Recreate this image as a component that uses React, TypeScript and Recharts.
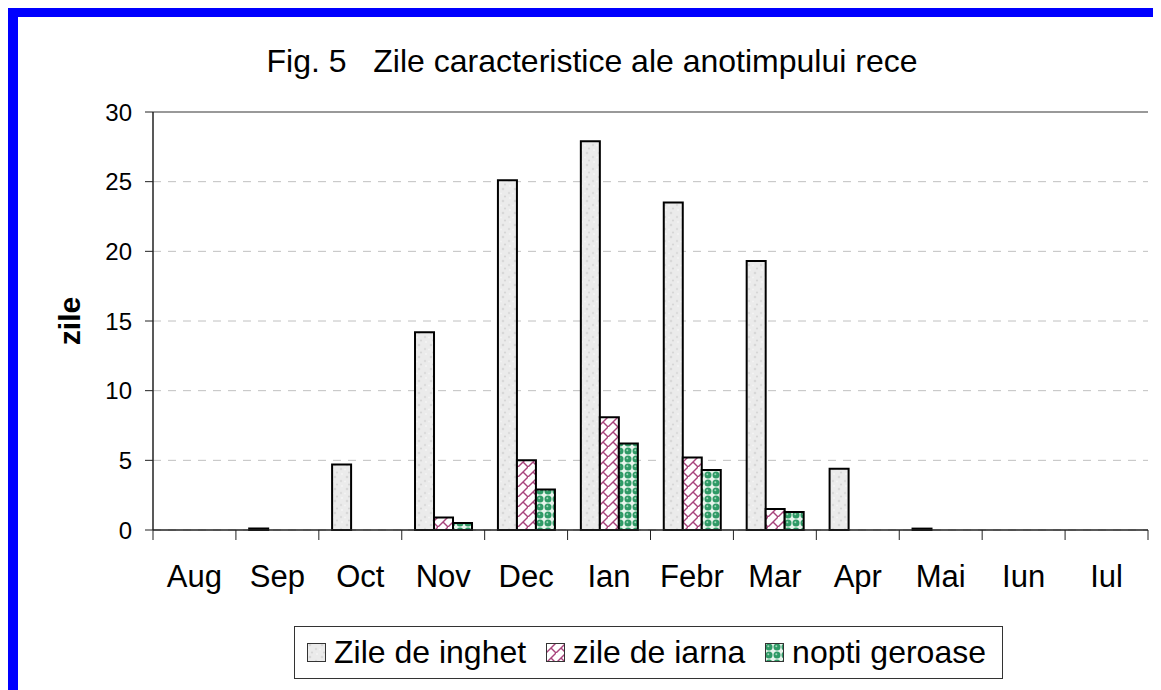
import React from 'react'
import {
  BarChart,
  Bar,
  XAxis,
  YAxis,
  CartesianGrid,
  ReferenceLine,
  Legend,
} from 'recharts'

const months = ['Aug', 'Sep', 'Oct', 'Nov', 'Dec', 'Ian', 'Febr', 'Mar', 'Apr', 'Mai', 'Iun', 'Iul']
const zileInghet = [0, 0.1, 4.7, 14.2, 25.1, 27.9, 23.5, 19.3, 4.4, 0.1, 0, 0]
const zileIarna = [0, 0, 0, 0.9, 5.0, 8.1, 5.2, 1.5, 0, 0, 0, 0]
const noptiGeroase = [0, 0, 0, 0.5, 2.9, 6.2, 4.3, 1.3, 0, 0, 0, 0]
const yTicks = [0, 5, 10, 15, 20, 25, 30]
const seriesOrder = ['inghet', 'iarna', 'nopti']

const FONT = '"Liberation Sans", Arial, sans-serif'
const W = 1153
const H = 683
const M = { top: 105, right: 13, left: 0, bottom: 100 }
const Y_W = 145
const X_H = 60
const PLOT_W = W - M.left - M.right - Y_W
const BAND = PLOT_W / months.length

const data = months.map((m, i) => ({
  month: m,
  inghet: zileInghet[i],
  iarna: zileIarna[i],
  nopti: noptiGeroase[i],
}))

function XTick(props: any) {
  const { x, y, payload, index } = props
  const axisY = y - 10
  const half = BAND / 2
  return (
    <g>
      <line x1={x - half} x2={x - half} y1={axisY} y2={axisY + 10} stroke="#222" />
      {index === months.length - 1 && (
        <line x1={x + half} x2={x + half} y1={axisY} y2={axisY + 10} stroke="#222" />
      )}
      <text x={x} y={axisY + 57} textAnchor="middle" fontSize={31} fill="#000" fontFamily={FONT}>
        {payload.value}
      </text>
    </g>
  )
}

function renderLegend(props: any) {
  const payload = [...(props.payload || [])].sort(
    (a: any, b: any) => seriesOrder.indexOf(a.dataKey) - seriesOrder.indexOf(b.dataKey)
  )
  return (
    <div
      style={{
        boxSizing: 'border-box',
        width: 709,
        height: 53,
        border: '1px solid #333',
        background: '#fff',
        display: 'flex',
        alignItems: 'center',
        justifyContent: 'space-between',
        paddingLeft: 12,
        paddingRight: 16,
        fontSize: 32,
        fontFamily: FONT,
        color: '#000',
        whiteSpace: 'nowrap',
      }}
    >
      {payload.map((entry: any) => (
        <span key={entry.value} style={{ display: 'flex', alignItems: 'center' }}>
          <svg width={19} height={19} style={{ marginRight: 8 }}>
            <rect x={0.5} y={0.5} width={18} height={18} fill={entry.color} stroke="#333" />
          </svg>
          {entry.value}
        </span>
      ))}
    </div>
  )
}

export default function App() {
  return (
    <div style={{ position: 'relative', width: W, height: H, marginTop: -1, fontFamily: FONT }}>
      <svg width={0} height={0} style={{ position: 'absolute' }}>
        <defs>
          <pattern id="pInghet" width={12} height={12} patternUnits="userSpaceOnUse">
            <rect width={12} height={12} fill="#ebebeb" />
            <circle cx={3} cy={2} r={1.3} fill="#d8d8d8" />
            <circle cx={9} cy={6} r={1.2} fill="#dcdcdc" />
            <circle cx={5} cy={9.5} r={1.1} fill="#d6d6d6" />
            <circle cx={10} cy={11} r={0.9} fill="#f6f6f6" />
            <circle cx={1} cy={6.5} r={1} fill="#f4f4f4" />
          </pattern>
          <pattern id="pIarna" width={10} height={10} patternUnits="userSpaceOnUse">
            <rect width={10} height={10} fill="#fff" />
            <path d="M-1,11 L11,-1" stroke="#a8447c" strokeWidth={1.4} />
            <path d="M5,5 L10,10" stroke="#a8447c" strokeWidth={1.4} />
          </pattern>
          <pattern id="pNopti" width={8} height={8} patternUnits="userSpaceOnUse">
            <rect width={8} height={8} fill="#e8f4ec" />
            <circle cx={4} cy={4} r={3.5} fill="#2f9a66" />
            <circle cx={3.3} cy={3.3} r={1} fill="#9fd6b8" />
          </pattern>
        </defs>
      </svg>
      <div
        style={{
          position: 'absolute',
          left: 0,
          top: 39,
          width: W,
          textAlign: 'center',
          fontSize: 32,
          lineHeight: '31px',
          whiteSpace: 'pre',
          color: '#000',
          paddingLeft: 15,
          boxSizing: 'border-box',
        }}
      >
        {'Fig. 5   Zile caracteristice ale anotimpului rece'}
      </div>
      <BarChart
        width={W}
        height={H}
        data={data}
        margin={M}
        barCategoryGap="16%"
        barGap={0}
        style={{ position: 'absolute', left: 0, top: 0 }}
      >
        <CartesianGrid vertical={false} stroke="#c0c0c0" strokeDasharray="8 7" />
        <XAxis
          dataKey="month"
          height={X_H}
          interval={0}
          tickSize={10}
          tickMargin={0}
          tickLine={false}
          axisLine={{ stroke: '#222', strokeWidth: 1.5 }}
          tick={(p: any) => <XTick {...p} />}
        />
        <YAxis
          width={Y_W}
          domain={[0, 30]}
          ticks={yTicks}
          interval={0}
          tickSize={8}
          tickMargin={13}
          axisLine={{ stroke: '#222', strokeWidth: 1.5 }}
          tickLine={{ stroke: '#222' }}
          tick={{ fontSize: 24, fill: '#000', fontFamily: FONT }}
          label={{
            content: () => (
              <text
                x={61}
                y={314}
                transform="rotate(-90 61 314)"
                textAnchor="middle"
                dominantBaseline="central"
                fontSize={30}
                fontWeight="bold"
                fill="#000"
                fontFamily={FONT}
              >
                zile
              </text>
            ),
          }}
        />
        <YAxis
          yAxisId="r"
          orientation="right"
          width={0}
          domain={[0, 30]}
          tick={false}
          tickLine={false}
          axisLine={{ stroke: '#999', strokeWidth: 2 }}
        />
        <ReferenceLine y={30} stroke="#999" strokeWidth={2} />
        <Bar dataKey="inghet" name="Zile de inghet" fill="url(#pInghet)" stroke="#000" strokeWidth={2} isAnimationActive={false} />
        <Bar dataKey="iarna" name="zile de iarna" fill="url(#pIarna)" stroke="#000" strokeWidth={2} isAnimationActive={false} />
        <Bar dataKey="nopti" name="nopti geroase" fill="url(#pNopti)" stroke="#000" strokeWidth={2} isAnimationActive={false} />
        <Legend
          verticalAlign="middle"
          align="center"
          layout="horizontal"
          wrapperStyle={{ left: 286, top: 619, width: 709, height: 53 }}
          content={renderLegend}
        />
      </BarChart>
      <div style={{ position: 'absolute', left: 0, top: 0, width: W, height: 10, background: '#0000ff' }} />
      <div style={{ position: 'absolute', left: 0, top: 0, width: 10, height: H, background: '#0000ff' }} />
    </div>
  )
}
